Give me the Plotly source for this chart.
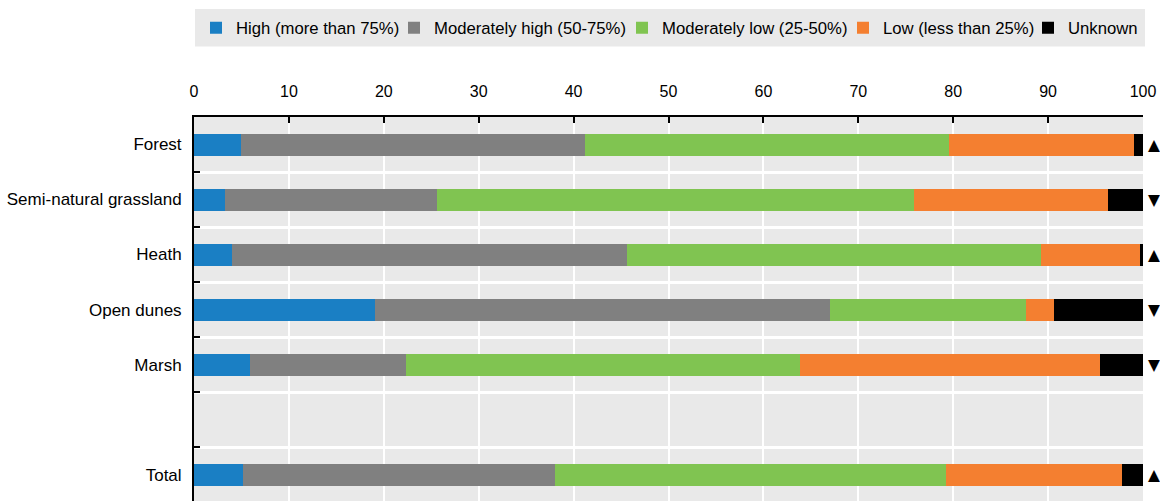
import plotly.graph_objects as go

categories = ["Forest", "Semi-natural grassland", "Heath", "Open dunes", "Marsh", " ", "Total"]
high = [5.0, 3.3, 4.0, 19.1, 5.9, None, 5.2]
mod_high = [36.2, 22.3, 41.6, 47.9, 16.4, None, 32.8]
mod_low = [38.4, 50.3, 43.6, 20.7, 41.6, None, 41.2]
low = [19.4, 20.4, 10.5, 2.9, 31.6, None, 18.6]
unknown = [1.0, 3.7, 0.3, 9.4, 4.5, None, 2.2]
trends = ["▲", "▼", "▲", "▼", "▼", "", "▲"]
x_ticks = [0, 10, 20, 30, 40, 50, 60, 70, 80, 90, 100]

series_names = ["High (more than 75%)", "Moderately high (50-75%)",
                 "Moderately low (25-50%)", "Low (less than 25%)", "Unknown"]
series_values = [high, mod_high, mod_low, low, unknown]
series_colors = ["#1a7fc4", "#808080", "#80c451", "#f47f30", "#000000"]

FONT = "Liberation Sans, Arial, sans-serif"
W, H = 1160, 501
ML, MR, MT, MB = 194, 17, 117, 0
PW, PH = W - ML - MR, H - MT - MB

# legend item left edges (pixels) for each series
legend_left_px = [196, 394, 622, 843, 1028]
legend_mid_px = 28

fig = go.Figure()
legend_layouts = {}
for i, (name, vals, color) in enumerate(zip(series_names, series_values, series_colors)):
    lname = "legend" if i == 0 else f"legend{i + 1}"
    fig.add_trace(go.Bar(
        y=categories, x=vals, name=name, orientation="h",
        marker=dict(color=color, line=dict(width=0)),
        width=0.4, legend=lname,
    ))
    legend_layouts[lname] = dict(
        orientation="h", x=(legend_left_px[i] - ML) / PW, xanchor="left",
        y=(H - MB - legend_mid_px) / PH, yanchor="middle",
        bgcolor="rgba(0,0,0,0)", borderwidth=0,
        font=dict(size=16.7, family=FONT, color="#000000"),
        itemwidth=30,
    )

for cat, t in zip(categories, trends):
    if t:
        fig.add_annotation(
            x=1.0, xref="paper", y=cat, yref="y", text=t, showarrow=False,
            xanchor="center", xshift=11, yshift=0,
            font=dict(size=15.5, color="#000000", family="DejaVu Sans"),
        )

fig.add_shape(
    type="rect", xref="paper", yref="paper",
    x0=(195 - ML) / PW, x1=(1145 - ML) / PW,
    y0=(H - 46.5) / PH, y1=(H - 9) / PH,
    fillcolor="#e9e9e9", line=dict(width=0), layer="below",
)

fig.update_layout(
    barmode="stack",
    width=W, height=H,
    margin=dict(l=ML, r=MR, t=MT, b=MB, pad=0),
    paper_bgcolor="#ffffff",
    plot_bgcolor="#e9e9e9",
    font=dict(family=FONT, size=16, color="#000000"),
    showlegend=True,
    xaxis=dict(
        side="top", range=[0, 100], tickvals=x_ticks,
        showgrid=True, gridcolor="#ffffff", gridwidth=2,
        showline=True, linecolor="#000000", linewidth=2,
        ticks="inside", ticklen=6, tickcolor="#000000", tickwidth=2,
        ticklabelstandoff=12, zeroline=False,
        tickfont=dict(size=16, family=FONT),
    ),
    yaxis=dict(
        type="category", categoryorder="array", categoryarray=categories,
        range=[6.48, -0.5], tickson="boundaries",
        showgrid=True, gridcolor="#ffffff", gridwidth=3,
        showline=True, linecolor="#000000", linewidth=2,
        ticks="inside", ticklen=6, tickcolor="#000000", tickwidth=2,
        ticklabelstandoff=7,
        tickfont=dict(size=17, family=FONT),
    ),
    **legend_layouts,
)

fig.write_html("out.html", config={"displayModeBar": False},
               post_script="document.body.style.margin='0';")
